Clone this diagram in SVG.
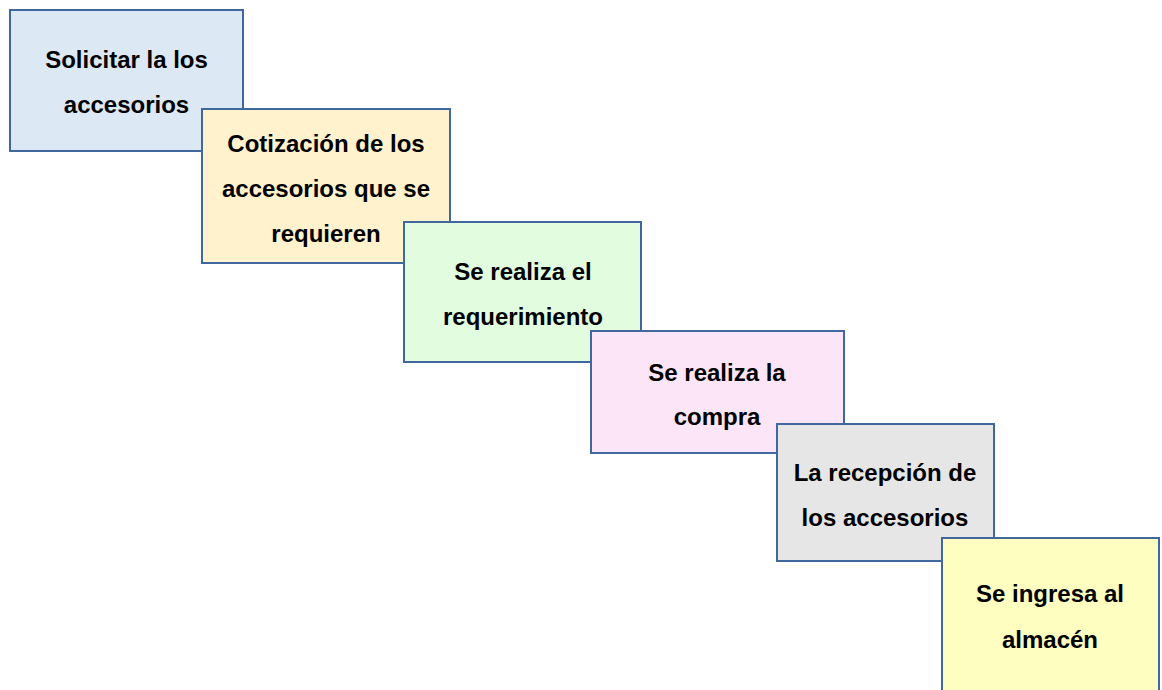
<svg xmlns="http://www.w3.org/2000/svg" width="1162" height="690" viewBox="0 0 1162 690">
<style>
.box{stroke:#41679f;stroke-width:2}
.t{font-family:"Liberation Sans",Arial,sans-serif;font-weight:bold;font-size:24px;fill:#000;text-anchor:middle}
</style>
<rect width="1162" height="690" fill="#fff"/>
<g id="connectors"></g>
<g id="n1"><rect class="box" x="10" y="10" width="233" height="141" fill="#dde8f5"/>
<text class="t" x="126.5" y="68">Solicitar la los</text><text class="t" x="126.5" y="113">accesorios</text></g>
<g id="n2"><rect class="box" x="202" y="109" width="248" height="154" fill="#fff2cc"/>
<text class="t" x="326" y="152">Cotización de los</text><text class="t" x="326" y="197">accesorios que se</text><text class="t" x="326" y="242">requieren</text></g>
<g id="n3"><rect class="box" x="404" y="222" width="237" height="140" fill="#e2fce0"/>
<text class="t" x="523" y="280">Se realiza el</text><text class="t" x="523" y="325">requerimiento</text></g>
<g id="n4"><rect class="box" x="591" y="331" width="253" height="122" fill="#fde5f8"/>
<text class="t" x="717" y="381">Se realiza la</text><text class="t" x="717" y="425">compra</text></g>
<g id="n5"><rect class="box" x="777" y="424" width="217" height="137" fill="#e6e6e6"/>
<text class="t" x="885" y="481">La recepción de</text><text class="t" x="885" y="526">los accesorios</text></g>
<g id="n6"><rect class="box" x="942" y="538" width="217" height="160" fill="#fefec0"/>
<text class="t" x="1050" y="602">Se ingresa al</text><text class="t" x="1050" y="648">almacén</text></g>
</svg>
